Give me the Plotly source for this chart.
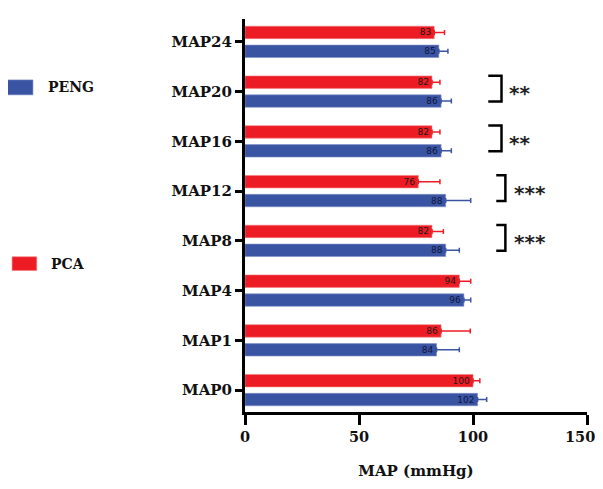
import plotly.graph_objects as go

categories = ["MAP0", "MAP1", "MAP4", "MAP8", "MAP12", "MAP16", "MAP20", "MAP24"]
peng_values = [102, 84, 96, 88, 88, 86, 86, 85]
peng_err = [4, 10, 3, 6, 11, 4.5, 4.5, 4]
pca_values = [100, 86, 94, 82, 76, 82, 82, 83]
pca_err = [3, 12.8, 5, 5, 9.5, 3.5, 3.5, 4.5]
x_ticks = [0, 50, 100, 150]
sig_cats = ["MAP20", "MAP16", "MAP12", "MAP8"]
sig_marks = ["**", "**", "***", "***"]

RED = "#ED1C24"
BLUE = "#3A54A4"
SERIF = "DejaVu Serif"

fig = go.Figure()
fig.add_trace(go.Bar(
    y=categories, x=pca_values, orientation="h", name="PCA",
    marker=dict(color=RED, line=dict(color="#F47A7E", width=0.6)),
    width=0.25, offset=0.065,
    text=[str(v) for v in pca_values], textposition="inside", insidetextanchor="end",
    textfont=dict(size=9, color="#1a1a1a", family="DejaVu Sans"), constraintext="none",
    textangle=0,
    error_x=dict(type="data", array=pca_err, arrayminus=[0]*len(pca_err), symmetric=False,
                 color=RED, thickness=1.5, width=2.5),
))
fig.add_trace(go.Bar(
    y=categories, x=peng_values, orientation="h", name="PENG",
    marker=dict(color=BLUE, line=dict(color="#7F8FC8", width=0.6)),
    width=0.25, offset=-0.315,
    text=[str(v) for v in peng_values], textposition="inside", insidetextanchor="end",
    textfont=dict(size=9, color="#10153a", family="DejaVu Sans"), constraintext="none",
    textangle=0,
    error_x=dict(type="data", array=peng_err, arrayminus=[0]*len(peng_err), symmetric=False,
                 color=BLUE, thickness=1.5, width=2.5),
))

shapes = []
annotations = []
for cat, mark in zip(sig_cats, sig_marks):
    i = categories.index(cat)
    if mark == "**":
        x0, x1 = 106.7, 112.5
        xs = 115.0
    else:
        x0, x1 = 110.2, 114.2
        xs = 117.0
    ytop, ybot = i + 0.32, i - 0.2
    shapes.append(dict(type="path", xref="x", yref="y",
                       path=f"M {x0},{ytop} L {x1},{ytop} L {x1},{ybot} L {x0},{ybot}",
                       line=dict(color="black", width=2.5)))
    annotations.append(dict(x=xs, y=i + 0.03, xref="x", yref="y", text=f"<b>{mark}</b>", showarrow=False,
                            xanchor="left", yanchor="middle", yshift=-3,
                            font=dict(family="DejaVu Sans", size=20, color="#222")))

# legend drawn at left
shapes.append(dict(type="rect", xref="paper", yref="paper", x0=-0.696, x1=-0.620, y0=0.807, y1=0.845,
                   fillcolor=BLUE, line=dict(color="#7F8FC8", width=0.6)))
shapes.append(dict(type="rect", xref="paper", yref="paper", x0=-0.681, x1=-0.609, y0=0.360, y1=0.395,
                   fillcolor=RED, line=dict(color="#F47A7E", width=0.6)))
annotations.append(dict(x=-0.582, y=0.826, xref="paper", yref="paper", text="<b>PENG</b>", showarrow=False,
                        xanchor="left", yanchor="middle", font=dict(family=SERIF, size=14, color="#111")))
annotations.append(dict(x=-0.572, y=0.377, xref="paper", yref="paper", text="<b>PCA</b>", showarrow=False,
                        xanchor="left", yanchor="middle", font=dict(family=SERIF, size=14, color="#111")))

tick_text = [f"<b>{t}</b>" for t in x_ticks]
tick_text[-1] = tick_text[-1] + "&nbsp;&nbsp;&nbsp;"  # keep the last label inside the page

fig.update_layout(
    width=595, height=473,
    margin=dict(l=237, r=16, t=11, b=69, autoexpand=False),
    paper_bgcolor="white", plot_bgcolor="white",
    showlegend=False, barmode="overlay",
    shapes=shapes, annotations=annotations,
    font=dict(family=SERIF, color="#111"),
)
fig.update_xaxes(
    range=[0, 150], tickvals=x_ticks, ticktext=tick_text,
    showline=True, linecolor="black", linewidth=3, ticks="outside", ticklen=10, tickwidth=3,
    tickcolor="black", showgrid=False, zeroline=False, automargin=False,
    ticklabeloverflow="allow",
    tickfont=dict(family=SERIF, size=14.5, color="#111"),
    title=dict(text="<b>MAP (mmHg)</b>", font=dict(family=SERIF, size=15, color="#111"), standoff=22),
)
fig.update_yaxes(
    type="category", categoryorder="array", categoryarray=categories,
    range=[-0.44, 7.46], automargin=False,
    tickvals=categories, ticktext=[f"<b>{c}</b>" for c in categories],
    showline=True, linecolor="black", linewidth=3, ticks="outside", ticklen=7, tickwidth=2.5,
    tickcolor="black", showgrid=False, zeroline=False,
    tickfont=dict(family=SERIF, size=15, color="#111"),
)

fig.write_html("out.html")
